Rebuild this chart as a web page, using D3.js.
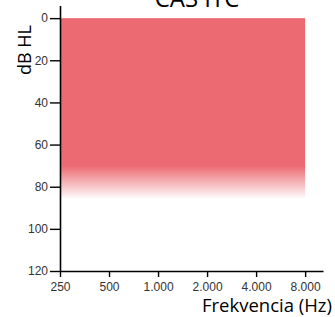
<!DOCTYPE html>
<html>
<head>
<meta charset="utf-8">
<script src="https://cdn.jsdelivr.net/npm/d3@7"></script>
<style>
  body { margin: 0; background: #fff; }
  svg { display: block; }
</style>
</head>
<body>
<div id="chart"></div>
<script>
// audiogram-ish band: hearing range covered by the device

const freqTicks = [250, 500, 1000, 2000, 4000, 8000]
const dbTicks   = [0, 20, 40, 60, 80, 100, 120]
const band      = { f0: 250, f1: 8000, top: 0, solidTo: 70, fadeTo: 86 }
const title     = 'CAS ITC'
const xLabel    = 'Frekvencia (Hz)'
const yLabel    = 'dB HL'

const W = 335, H = 317
const X0 = 60, X1 = 323   // axis pixel span
const Y0 = 5.5, Y1 = 271

const x = d3.scaleLog([250, 10300], [X0, X1])
const y = d3.scaleLinear([-6, 120], [Y0, Y1])

const svg = d3.select('#chart').append('svg').attr('width', W).attr('height', H)

const grad = svg.append('defs').append('linearGradient')
  .attr('id', 'fade').attr('gradientUnits', 'userSpaceOnUse')
  .attr('x1', 0).attr('x2', 0).attr('y1', y(band.top)).attr('y2', y(band.fadeTo))
const stopAt = v => (y(v) - y(band.top)) / (y(band.fadeTo) - y(band.top))
grad.append('stop').attr('offset', 0).attr('stop-color', '#ec6a71').attr('stop-opacity', 1)
grad.append('stop').attr('offset', stopAt(band.solidTo)).attr('stop-color', '#ec6a71').attr('stop-opacity', 1)
grad.append('stop').attr('offset', 1).attr('stop-color', '#ec6a71').attr('stop-opacity', 0)

svg.append('rect')
  .attr('x', x(band.f0)).attr('y', y(band.top))
  .attr('width', x(band.f1) - x(band.f0))
  .attr('height', y(band.fadeTo) - y(band.top))
  .attr('fill', 'url(#fade)')

const fmt = d => d >= 1000 ? d3.format(',')(d).replace(',', '.') : String(d)

const gx = svg.append('g').attr('transform', `translate(0,${Y1})`)
  .call(d3.axisBottom(x).tickValues(freqTicks).tickFormat(fmt).tickSize(6).tickSizeOuter(0))
const gy = svg.append('g').attr('transform', `translate(${X0},0)`)
  .call(d3.axisLeft(y).tickValues(dbTicks).tickSize(10).tickSizeOuter(0))

for (const g of [gx, gy]) {
  g.select('.domain').attr('stroke', '#000').attr('stroke-width', 1.6)
  g.selectAll('.tick line').attr('stroke', '#000').attr('stroke-width', 1.4)
  g.selectAll('.tick text').attr('fill', '#333')
    .style('font-family', '"Liberation Sans", Arial, sans-serif').style('font-size', '12px')
}
gx.selectAll('.tick text').attr('y', 11)
gy.selectAll('.tick text').attr('x', -12)

svg.append('text').text(title)
  .attr('x', 197).attr('y', 7)
  .attr('text-anchor', 'middle')
  .style('font-family', '"Open Sans", sans-serif').style('font-size', '24px')

svg.append('text').text(xLabel)
  .attr('x', 332).attr('y', 312)
  .attr('text-anchor', 'end')
  .style('font-family', '"Open Sans", sans-serif').style('font-size', '18.5px')

svg.append('text').text(yLabel)
  .attr('transform', 'translate(31,50) rotate(-90)')
  .attr('text-anchor', 'middle')
  .style('font-family', '"Open Sans", sans-serif').style('font-size', '18px')
</script>
</body>
</html>
